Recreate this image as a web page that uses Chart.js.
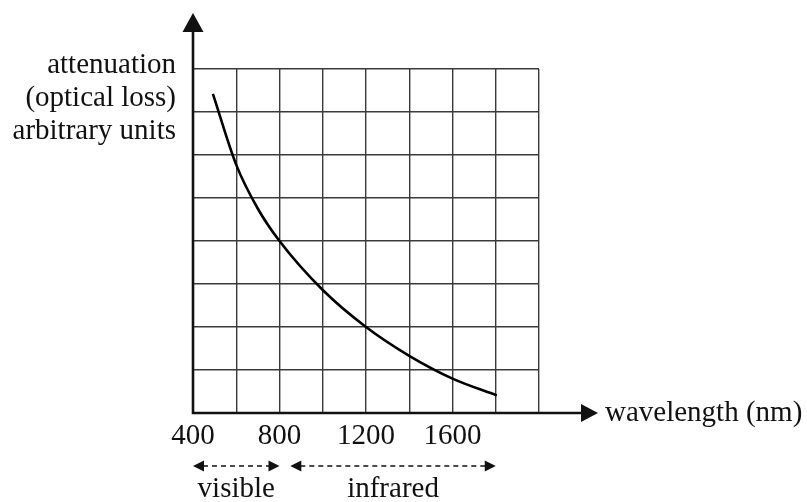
<!DOCTYPE html>
<html>
<head>
<meta charset="utf-8">
<script src="https://cdn.jsdelivr.net/npm/chart.js@4.4.0/dist/chart.umd.min.js"></script>
<style>
  html, body { margin: 0; padding: 0; background: #fff; }
  #wrap { width: 807px; height: 502px; }
</style>
</head>
<body>
<div id="wrap"><canvas id="chart" width="807" height="502"></canvas></div>
<script>
// curve: wavelength (nm) vs attenuation (grid units)
const wavelength = [492, 600, 700, 800, 1000, 1200, 1400, 1600, 1805];
const attenuation = [7.42, 5.77, 4.75, 4.0, 2.86, 2.0, 1.33, 0.8, 0.41];
const xTickLabels = [400, 800, 1200, 1600];
const yTitleLines = ['attenuation', '(optical loss)', 'arbitrary units'];
const xTitle = 'wavelength (nm)';
const bands = [
    { label: 'visible', from: 400, to: 800 },
    { label: 'infrared', from: 850, to: 1800 }
];

const FONT = '29px "Liberation Serif", "DejaVu Serif", serif';

const arrowHead = (ctx, x, y, dir, len, half) => {
    ctx.beginPath();
    if (dir === 'up') {
        ctx.moveTo(x, y);
        ctx.lineTo(x - half, y + len);
        ctx.lineTo(x + half, y + len);
    } else if (dir === 'right') {
        ctx.moveTo(x, y);
        ctx.lineTo(x - len, y - half);
        ctx.lineTo(x - len, y + half);
    } else {
        ctx.moveTo(x, y);
        ctx.lineTo(x + len, y - half);
        ctx.lineTo(x + len, y + half);
    }
    ctx.closePath();
    ctx.fill();
};

const decorations = {
    id: 'decorations',
    afterDraw(chart) {
        const ctx = chart.ctx;
        const xs = chart.scales.x;
        const ys = chart.scales.y;
        const x0 = xs.getPixelForValue(400);
        const y0 = ys.getPixelForValue(0);
        ctx.save();
        ctx.fillStyle = '#111';
        ctx.strokeStyle = '#111';

        // axes with arrows
        ctx.lineWidth = 2.6;
        ctx.beginPath();
        ctx.moveTo(x0, y0);
        ctx.lineTo(x0, 30);
        ctx.moveTo(x0 - 1.3, y0);
        ctx.lineTo(584, y0);
        ctx.stroke();
        arrowHead(ctx, x0, 13, 'up', 19, 10.5);
        arrowHead(ctx, 598, y0, 'right', 17, 9);

        ctx.font = FONT;
        // y title
        ctx.textAlign = 'right';
        ctx.textBaseline = 'alphabetic';
        yTitleLines.forEach((t, i) => ctx.fillText(t, 176, 73 + i * 33));

        // x title
        ctx.textAlign = 'left';
        ctx.fillText(xTitle, 605, 421);

        // tick labels
        ctx.textAlign = 'center';
        xTickLabels.forEach(v => ctx.fillText(String(v), xs.getPixelForValue(v), 444));

        // visible / infrared bands
        const by = 466;
        bands.forEach(b => {
            const a = xs.getPixelForValue(b.from);
            const c = xs.getPixelForValue(b.to);
            ctx.lineWidth = 1.5;
            ctx.setLineDash([5, 4]);
            ctx.beginPath();
            ctx.moveTo(a + 10, by);
            ctx.lineTo(c - 10, by);
            ctx.stroke();
            ctx.setLineDash([]);
            arrowHead(ctx, a, by, 'left', 11, 5.5);
            arrowHead(ctx, c, by, 'right', 11, 5.5);
            ctx.fillText(b.label, (a + c) / 2, 497);
        });
        ctx.restore();
    }
};

const ctx = document.getElementById('chart').getContext('2d');
const chart = new Chart(ctx, {
    type: 'scatter',
    data: {
        datasets: [
            {
                data: wavelength.map((w, i) => ({ x: w, y: attenuation[i] })),
                showLine: true,
                borderColor: '#000',
                borderWidth: 2.6,
                pointRadius: 0,
                cubicInterpolationMode: 'monotone'
            }
        ]
    },
    options: {
        responsive: false,
        animation: false,
        layout: { padding: { left: 193, right: 268, top: 69, bottom: 89 } },
        plugins: { legend: { display: false }, tooltip: { enabled: false } },
        scales: {
            x: {
                type: 'linear',
                min: 400,
                max: 2000,
                ticks: { display: false, stepSize: 200 },
                grid: { color: '#3a3a3a', lineWidth: 1.4, drawTicks: false },
                border: { display: false }
            },
            y: {
                type: 'linear',
                min: 0,
                max: 8,
                ticks: { display: false, stepSize: 1 },
                grid: { color: '#3a3a3a', lineWidth: 1.4, drawTicks: false },
                border: { display: false }
            }
        }
    },
    plugins: [decorations]
});
</script>
</body>
</html>
